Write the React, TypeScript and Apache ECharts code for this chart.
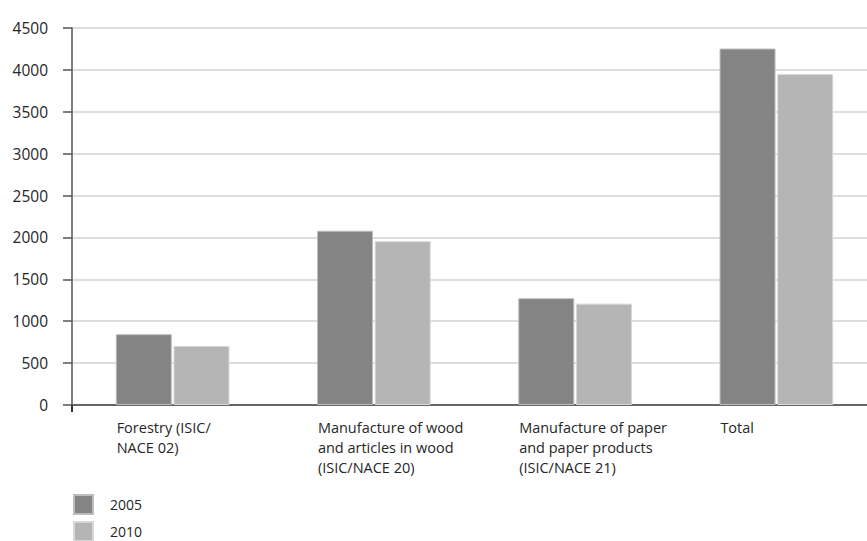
import React, { useEffect, useRef } from "react";
import * as echarts from "echarts";

const categories = [
  "Forestry (ISIC/\nNACE 02)",
  "Manufacture of wood\nand articles in wood\n(ISIC/NACE 20)",
  "Manufacture of paper\nand paper products\n(ISIC/NACE 21)",
  "Total",
];
const seriesNames = ["2005", "2010"];
const values2005 = [845, 2080, 1275, 4255];
const values2010 = [705, 1955, 1210, 3950];
const yMin = 0;
const yMax = 4500;
const yInterval = 500;

const FONT = "Open Sans";
const TEXT = "#262626";

export default function App() {
  const ref = useRef<HTMLDivElement>(null);
  useEffect(() => {
    if (!ref.current) return;
    const chart = echarts.init(ref.current, undefined, { renderer: "svg" });
    const option: any = {
      animation: false,
      backgroundColor: "#ffffff",
      textStyle: { fontFamily: FONT },
      grid: { left: 72, right: 0, top: 28, bottom: 136, containLabel: false },
      legend: {
        orient: "vertical",
        left: 73,
        top: 494,
        padding: 0,
        height: 120,
        itemWidth: 19,
        itemHeight: 19,
        itemGap: 6,
        icon: "rect",
        data: seriesNames,
        textStyle: { fontFamily: FONT, fontSize: 14, lineHeight: 18, color: TEXT, padding: [0, 0, 0, 12] },
      },
      xAxis: {
        type: "category",
        data: categories,
        axisLine: { show: true, lineStyle: { color: "#666666", width: 2 } },
        axisTick: {
          show: true,
          alignWithLabel: false,
          interval: (i: number) => i === 0,
          length: 7,
          lineStyle: { color: "#333333", width: 2 },
        },
        axisLabel: {
          interval: 0,
          margin: 12,
          color: TEXT,
          formatter: (v: string) =>
            v
              .split("\n")
              .map((l) => `{l|${l}}`)
              .join("\n"),
          rich: {
            l: {
              width: 112,
              align: "left",
              fontSize: 14.5,
              lineHeight: 20,
              color: TEXT,
              fontFamily: FONT,
            },
          },
        },
      },
      yAxis: {
        type: "value",
        min: yMin,
        max: yMax,
        interval: yInterval,
        axisLine: { show: true, lineStyle: { color: "#555555", width: 1.5 } },
        axisTick: { show: true, length: 9, lineStyle: { color: "#555555", width: 1.5 } },
        axisLabel: {
          margin: 24,
          fontSize: 15.5,
          color: TEXT,
          fontFamily: FONT,
          formatter: (v: number) => String(v),
        },
        splitLine: { show: true, lineStyle: { color: "#d2d2d2", width: 1.5 } },
      },
      series: [
        {
          name: seriesNames[0],
          type: "bar",
          data: values2005,
          barWidth: 56,
          barGap: "3%",
          itemStyle: { color: "#848484", borderColor: "#bdbdbd", borderWidth: 1 },
        },
        {
          name: seriesNames[1],
          type: "bar",
          data: values2010,
          barWidth: 56,
          barGap: "3%",
          itemStyle: { color: "#b5b5b5", borderColor: "#d8d8d8", borderWidth: 1 },
        },
      ],
    };
    chart.setOption(option);
    return () => chart.dispose();
  }, []);
  return (
    <div style={{ position: "fixed", left: 0, top: 0, width: 867, height: 541, overflow: "hidden", background: "#fff" }}>
      <div ref={ref} style={{ width: 877, height: 541 }} />
    </div>
  );
}
